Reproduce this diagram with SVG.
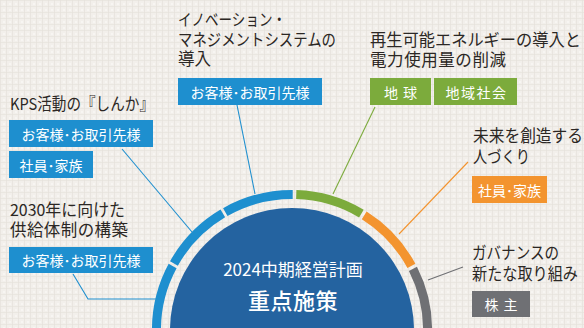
<svg xmlns="http://www.w3.org/2000/svg" width="584" height="328" viewBox="0 0 584 328">
  <defs>
    <pattern id="linen" width="6" height="6" patternUnits="userSpaceOnUse">
      <rect width="6" height="6" fill="#f2efeb"/>
      <rect x="0" y="0" width="6" height="1" fill="#e8e4de" opacity="0.7"/>
      <rect x="0" y="0" width="1" height="6" fill="#e6e2dc" opacity="0.7"/>
      <rect x="3" y="3" width="2" height="2" fill="#f7f5f2"/>
    </pattern>
    <style>
      .h { font-family: "Noto Sans CJK JP", "Noto Sans", sans-serif; font-size: 16.5px; fill: #2b2724; }
      .lbl { font-family: "Noto Sans CJK JP", "Noto Sans", sans-serif; font-size: 14px; fill: #ffffff; text-anchor: middle; font-weight: 400; }
      .ctr { font-family: "Noto Sans CJK JP", "Noto Sans", sans-serif; fill: #ffffff; text-anchor: middle; }
      .blue { fill: #1e8fcf; }
      .green { fill: #7cab3c; }
      .orange { fill: #f3942f; }
      .gray { fill: #6f7074; }
      .seg { fill: none; stroke-width: 9; }
      .conn { fill: none; stroke-width: 1.1; }
    </style>
  </defs>

  <rect width="584" height="328" fill="url(#linen)"/>

  <!-- connectors -->
  <g id="connectors">
    <polyline class="conn" stroke="#1e8fcf" points="122,149 192,232"/>
    <polyline class="conn" stroke="#1e8fcf" points="73,274 88,299 156,299"/>
    <polyline class="conn" stroke="#1e8fcf" points="237,105 255,194"/>
    <polyline class="conn" stroke="#7cab3c" points="375,107 333,194"/>
    <polyline class="conn" stroke="#f3942f" points="468,162 399,234"/>
    <polyline class="conn" stroke="#6f7074" points="463,267 428,280"/>
  </g>

  <!-- center node -->
  <g id="node-center">
    <circle cx="292" cy="330" r="122" fill="#2463a0"/>
    <path class="seg" stroke="#1e8fcf" d="M157.0,341.8 A135.5,135.5 0 0 1 172.6,266.0"/>
    <path class="seg" stroke="#1e8fcf" d="M173.95,263.48 A135.5,135.5 0 0 1 222.83,213.48"/>
    <path class="seg" stroke="#1e8fcf" d="M225.28,212.06 A135.5,135.5 0 0 1 292.71,194.5"/>
    <path class="seg" stroke="#7cab3c" d="M296.26,194.57 A135.5,135.5 0 0 1 361.38,213.6"/>
    <path class="seg" stroke="#f3942f" d="M364.21,215.34 A135.5,135.5 0 0 1 411.41,265.96"/>
    <path class="seg" stroke="#6f7074" d="M412.95,268.9 A135.5,135.5 0 0 1 425.4,353.5"/>
    <text class="ctr" x="293" y="276" font-size="17">2024中期経営計画</text>
    <text class="ctr" x="293" y="309" font-size="22" font-weight="500" letter-spacing="0.5">重点施策</text>
  </g>

  <!-- KPS -->
  <g id="node-kps">
    <text class="h" x="10" y="110" textLength="144" lengthAdjust="spacingAndGlyphs">KPS活動の『しんか』</text>
    <rect class="blue" x="9" y="120" width="144" height="27"/>
    <text class="lbl" x="81" y="139.5">お客様･お取引先様</text>
    <rect class="blue" x="9" y="151" width="84" height="27"/>
    <text class="lbl" x="51" y="170.5">社員･家族</text>
  </g>

  <!-- 2030 -->
  <g id="node-2030">
    <text class="h" x="10" y="216" textLength="115" lengthAdjust="spacingAndGlyphs">2030年に向けた</text>
    <text class="h" x="10" y="236" textLength="118">供給体制の構築</text>
    <rect class="blue" x="9" y="247" width="144" height="26"/>
    <text class="lbl" x="81" y="266">お客様･お取引先様</text>
  </g>

  <!-- innovation -->
  <g id="node-innovation">
    <text class="h" x="178" y="26" textLength="108" lengthAdjust="spacingAndGlyphs">イノベーション・</text>
    <text class="h" x="178" y="46" textLength="158" lengthAdjust="spacingAndGlyphs">マネジメントシステムの</text>
    <text class="h" x="178" y="65">導入</text>
    <rect class="blue" x="178" y="78" width="144" height="27"/>
    <text class="lbl" x="250" y="97.5">お客様･お取引先様</text>
  </g>

  <!-- energy -->
  <g id="node-energy">
    <text class="h" x="370" y="46" textLength="211" lengthAdjust="spacingAndGlyphs">再生可能エネルギーの導入と</text>
    <text class="h" x="370" y="66" textLength="136">電力使用量の削減</text>
    <rect class="green" x="370" y="78" width="61" height="27"/>
    <text class="lbl" x="401" y="97.5" letter-spacing="1">地 球</text>
    <rect class="green" x="434" y="78" width="83" height="27"/>
    <text class="lbl" x="476.5" y="97.5" letter-spacing="1.5">地域社会</text>
  </g>

  <!-- people -->
  <g id="node-people">
    <text class="h" x="473" y="142" textLength="110" lengthAdjust="spacingAndGlyphs">未来を創造する</text>
    <text class="h" x="473" y="163" textLength="57" lengthAdjust="spacingAndGlyphs">人づくり</text>
    <rect class="orange" x="472" y="176" width="75" height="27"/>
    <text class="lbl" x="509.5" y="195.5">社員･家族</text>
  </g>

  <!-- governance -->
  <g id="node-governance">
    <text class="h" x="472" y="259" textLength="87" lengthAdjust="spacingAndGlyphs">ガバナンスの</text>
    <text class="h" x="472" y="280" textLength="106" lengthAdjust="spacingAndGlyphs">新たな取り組み</text>
    <rect class="gray" x="472" y="291" width="58" height="26"/>
    <text class="lbl" x="501.5" y="310" letter-spacing="1">株 主</text>
  </g>
</svg>
